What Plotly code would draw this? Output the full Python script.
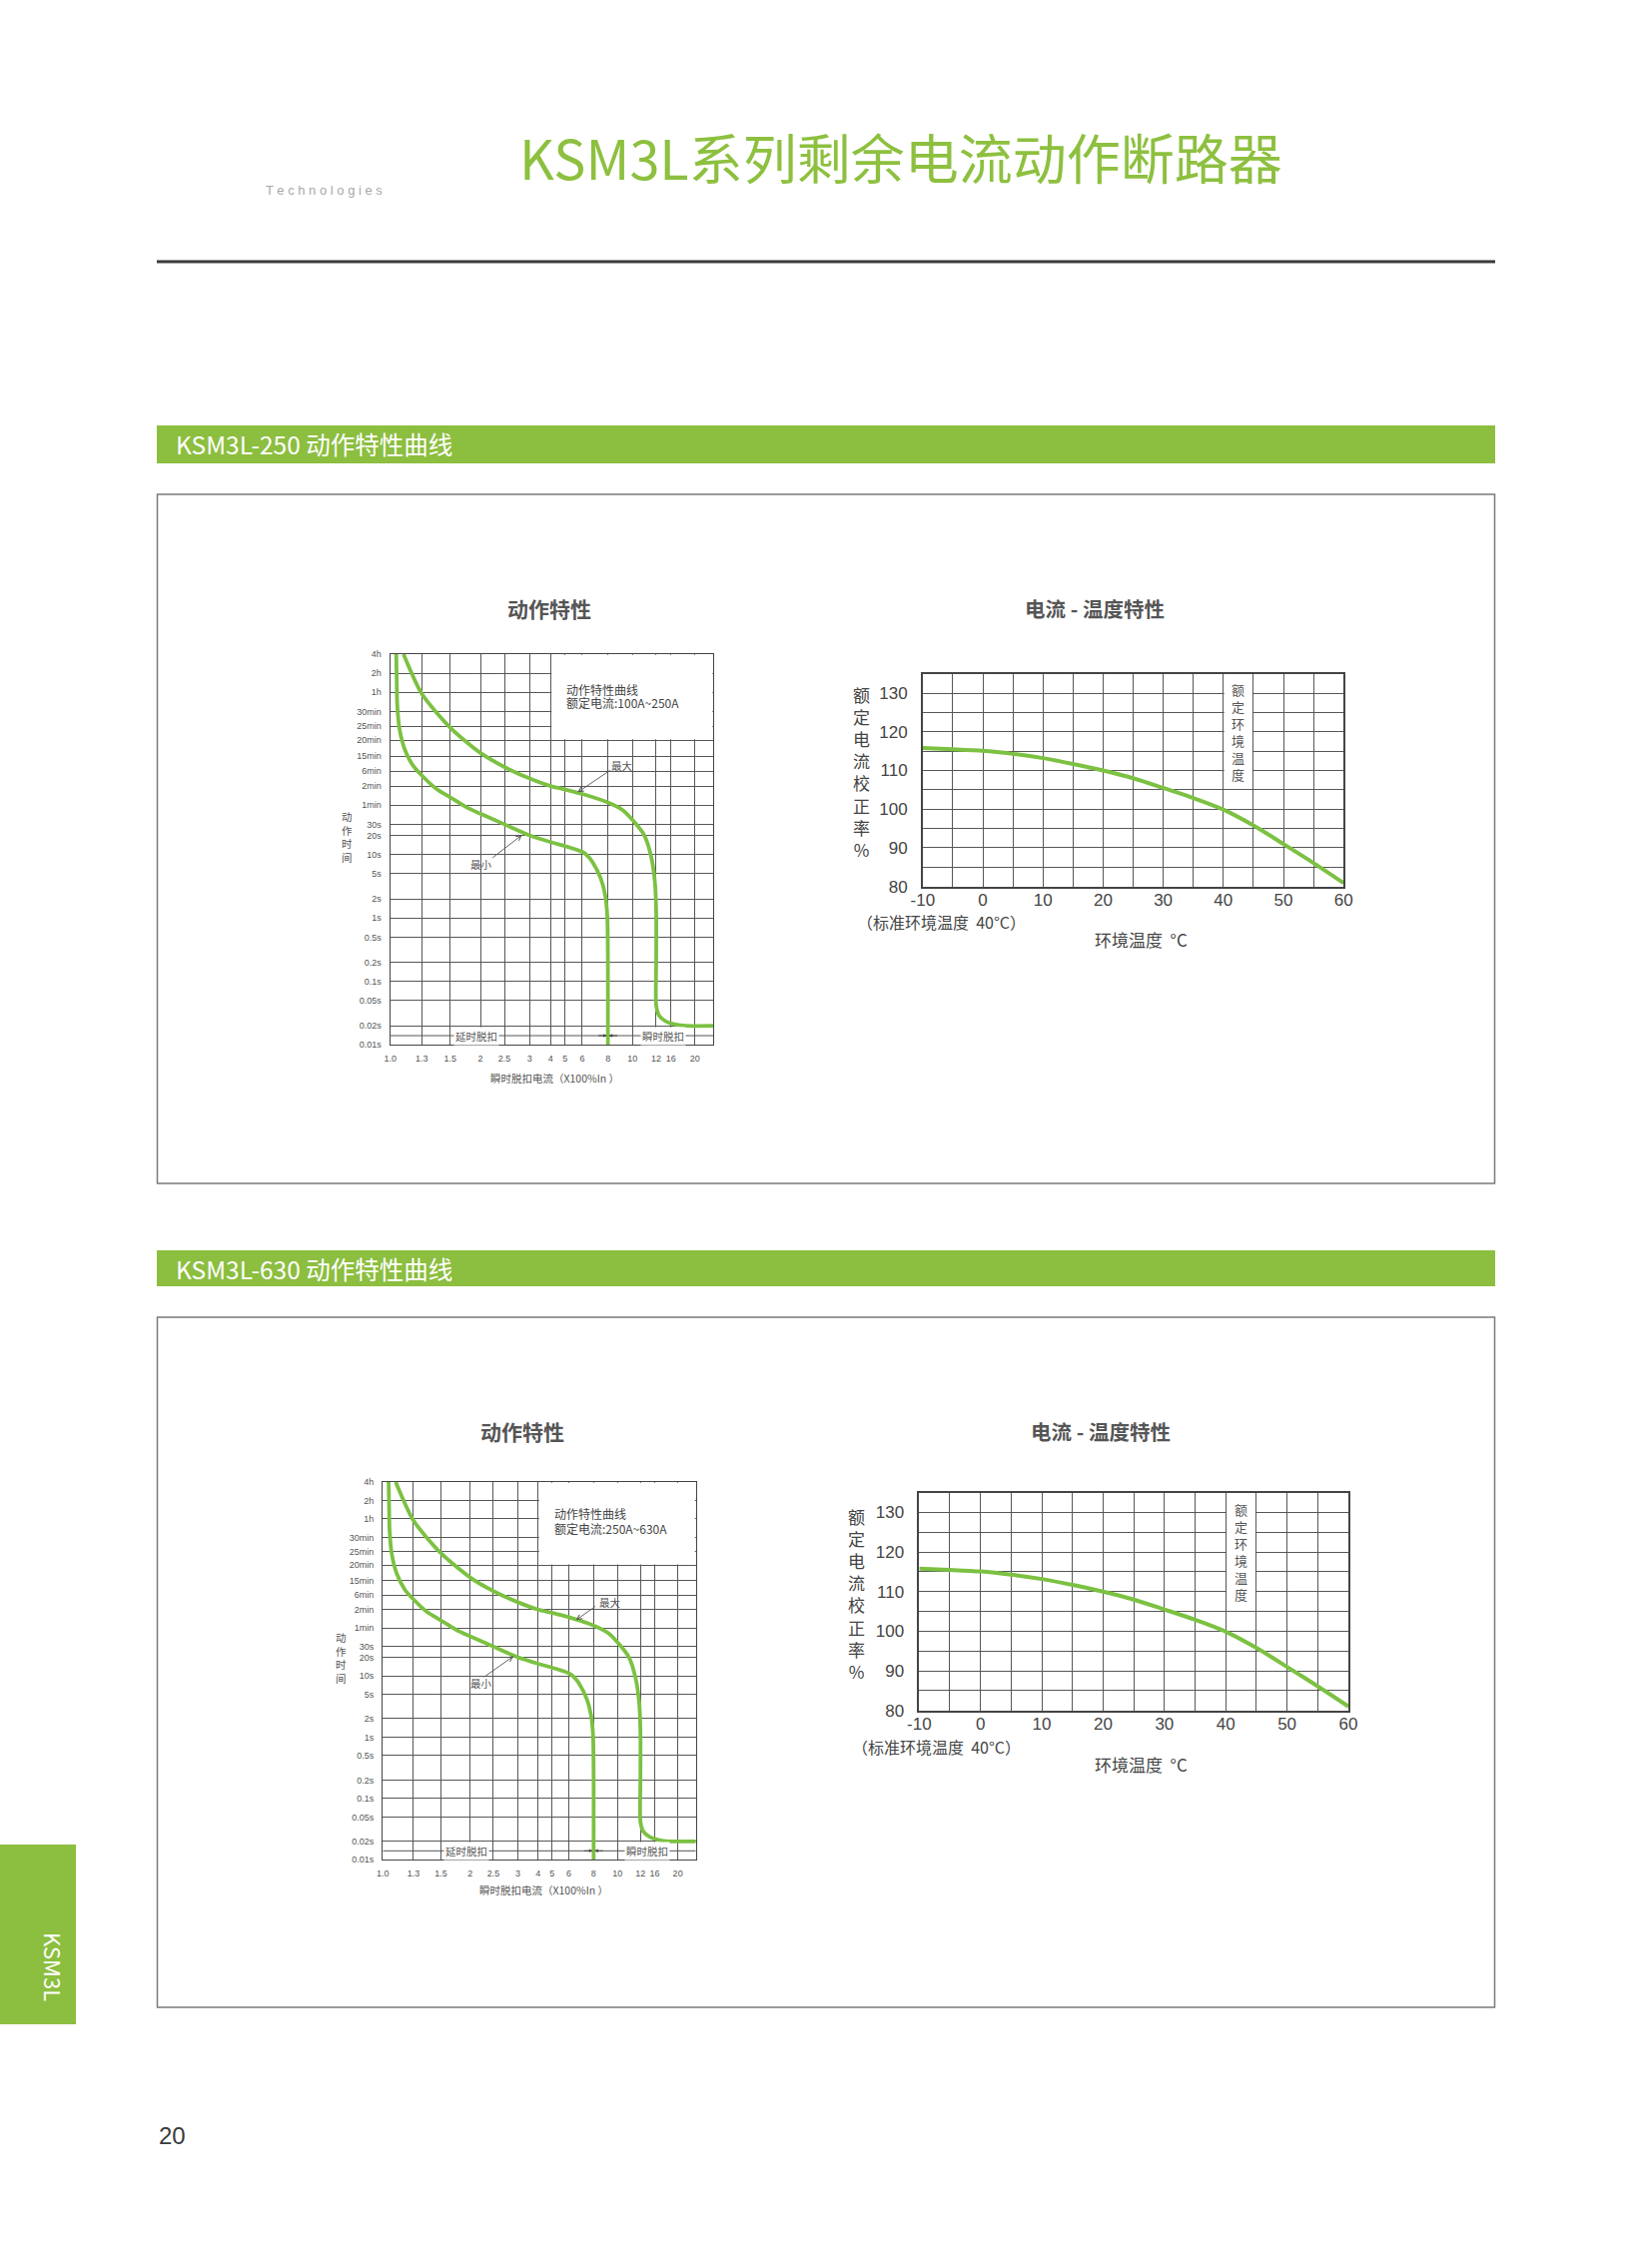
import numpy as np
import plotly.graph_objects as go

W, H = 1654, 2244

# ---------------- data ----------------
PAGE_TITLE = "KSM3L系列剩余电流动作断路器"
SECTION_TITLES = ["KSM3L-250 动作特性曲线", "KSM3L-630 动作特性曲线"]
RATED_TEXT = ["额定电流:100A~250A", "额定电流:250A~630A"]

# trip curve x axis (multiples of In) -- drawn on a non-uniform catalogue grid
X_TICK_LABELS = ["1.0", "1.3", "1.5", "2", "2.5", "3", "4", "5", "6", "8", "10", "12", "16", "20"]
X_MULTIPLES = [1.0, 1.3, 1.5, 2, 2.5, 3, 4, 5, 6, 8, 10, 12, 16, 20, 25]

# trip curve y axis (seconds, log)
Y_TICK_LABELS = ["0.01s", "0.02s", "0.05s", "0.1s", "0.2s", "0.5s", "1s", "2s", "5s", "10s",
                 "20s", "30s", "1min", "2min", "6min", "15min", "20min", "25min", "30min",
                 "1h", "2h", "4h"]
Y_TICK_SECONDS = [0.01, 0.02, 0.05, 0.1, 0.2, 0.5, 1, 2, 5, 10, 20, 30, 60, 120, 207, 357,
                  637, 1057, 1800, 3600, 7200, 14400]

# KSM3L-250 curves
MAX250_I = [1.126, 1.3, 1.5, 2.0, 2.5, 3.0, 4.0, 5.0, 6.0, 8.0, 9.2, 10.0, 11.0, 11.55,
            11.89, 12.0, 12.0, 12.0, 12.8, 14.6, 16.8, 18.5, 25]
MAX250_T = [14400, 3400, 1000, 400, 240, 158, 120, 106, 90, 66, 50, 35, 20, 9.7,
            3.7, 1.24, 0.2, 0.042, 0.029, 0.0236, 0.0209, 0.02, 0.02]
MIN250_I = [1.057, 1.062, 1.066, 1.088, 1.136, 1.215, 1.3, 1.401, 1.5, 1.764, 2.0, 2.5,
            3.0, 4.0, 5.0, 6.0, 6.42, 6.8, 7.45, 7.79, 7.95, 8.0, 8.0]
MIN250_T = [14400, 5000, 2400, 960, 464, 254, 176, 109, 80, 56, 44, 30,
            20, 15.7, 13.6, 11.0, 9.5, 7.6, 4.16, 2.27, 1.1, 0.2, 0.01]

# KSM3L-630 curves
MAX630_I = [1.126, 1.3, 1.5, 2.0, 2.5, 3.0, 4.0, 5.0, 6.0, 8.0, 9.2, 10.0, 11.0, 11.55,
            11.89, 12.0, 12.0, 12.0, 12.8, 14.6, 16.8, 18.5, 25]
MAX630_T = [14400, 3400, 1000, 400, 240, 158, 120, 106, 90, 66, 50, 35, 20, 9.7,
            3.7, 1.24, 0.2, 0.042, 0.029, 0.0236, 0.0209, 0.02, 0.02]
MIN630_I = [1.057, 1.062, 1.066, 1.088, 1.136, 1.215, 1.3, 1.401, 1.5, 1.764, 2.0, 2.5,
            3.0, 4.0, 5.0, 6.0, 6.42, 6.8, 7.45, 7.79, 7.95, 8.0, 8.0]
MIN630_T = [14400, 5000, 2400, 960, 464, 254, 176, 109, 80, 56, 44, 30,
            20, 15.7, 13.6, 11.0, 9.5, 7.6, 4.16, 2.27, 1.1, 0.2, 0.01]

ARROW_T = 0.014          # time level of the 延时/瞬时 marker line
SPLIT_I = 8              # delayed / instantaneous boundary (x In)
LEGEND_BOX_T = (637, 14400)   # legend box spans 20min tick .. 4h

# current - temperature curve
TEMP_C = [-10, -5, 0, 5, 10, 15, 20, 25, 30, 35, 40, 45, 50, 55, 60]
TEMP_RATE_250 = [115.8, 115.5, 115.1, 114.3, 113.2, 111.7, 110.0, 108.0, 105.5, 102.9, 99.9, 95.8, 91.0, 86.1, 80.9]
TEMP_RATE_630 = [115.8, 115.5, 115.1, 114.3, 113.2, 111.7, 110.0, 108.0, 105.5, 102.9, 99.9, 95.8, 91.0, 86.1, 81.0]
TEMP_X_TICKS = list(range(-10, 61, 5))
TEMP_Y_TICKS = list(range(80, 136, 5))

# ---------------- layout / style ----------------
X_GRID_POS = [0, .0978, .1854, .2791, .3532, .4315, .4964, .5407, .5942, .6735, .7497,
              .8229, .8682, .9423, 1.0]

CJK = "Noto Sans CJK SC, Noto Sans, sans-serif"
LAT = "Liberation Sans, Arial, Noto Sans CJK SC, sans-serif"
GREEN = "#8CBE3F"
TITLE_GREEN = "#8DC03F"
CURVE = "#7CC142"
GRID = "#575757"
FRAME = "#444444"
TXT = "#4a4a4a"


def xpos(m):
    return np.interp(m, X_MULTIPLES, X_GRID_POS)


def P(x, y):
    return x / W, 1 - y / H


def ann(text, x, y, size, color=TXT, xanchor="center", yanchor="middle",
        weight="normal", family=CJK, **kw):
    ax, ay = P(x, y)
    return dict(text=text, x=ax, y=ay, xref="paper", yref="paper", showarrow=False,
                xanchor=xanchor, yanchor=yanchor,
                font=dict(size=size, color=color, family=family, weight=weight), **kw)


def rect_px(x0, y0, x1, y1, **kw):
    a0, b0 = P(x0, y0)
    a1, b1 = P(x1, y1)
    return dict(type="rect", xref="paper", yref="paper", x0=a0, y0=b1, x1=a1, y1=b0, **kw)


fig = go.Figure()
shapes = []
anns = []

# ---------------- page decoration ----------------
anns.append(ann(PAGE_TITLE, 901.5, 157, 54, color=TITLE_GREEN))
anns.append(ann(" ".join("Technologies"), 264, 190, 13, color="#a8a8a8",
                xanchor="left", family=LAT))
a0, b0 = P(157, 262)
a1, _ = P(1497, 262)
shapes.append(dict(type="line", xref="paper", yref="paper", x0=a0, x1=a1, y0=b0, y1=b0,
                   line=dict(color="#3a3a3a", width=3)))

for (bar_y0, bar_y1, box_y0, box_y1, txt) in [(426, 464, 495, 1185, SECTION_TITLES[0]),
                                              (1252, 1288, 1319, 2010, SECTION_TITLES[1])]:
    shapes.append(rect_px(157, bar_y0, 1497, bar_y1, fillcolor=GREEN, line=dict(width=0),
                          layer="below"))
    shapes.append(rect_px(157.5, box_y0, 1496.5, box_y1, line=dict(color="#7a7a7a", width=1.5),
                          layer="below"))
    anns.append(ann(txt, 174, (bar_y0 + bar_y1) / 2, 24.5, color="white", xanchor="left"))

shapes.append(rect_px(0, 1847, 76, 2027, fillcolor=GREEN, line=dict(width=0), layer="below"))
anns.append(ann("KSM3L", 54, 1969, 22, color="white", textangle=90))
anns.append(ann("20", 157, 2138, 24, color="#3a3a3a", xanchor="left", family=LAT))

# ---------------- trip-curve charts ----------------
trip_specs = [
    dict(ax="", xd=(390.7, 714.3), yd=(655, 1046.3), title=(550, 609), ylab=(347, 837.5),
         xtitle=(555.8, 1079), leg=(565, 690, 703.5), rated=RATED_TEXT[0],
         curves=((MAX250_I, MAX250_T), (MIN250_I, MIN250_T)),
         max_lab=(9.17, 251), max_tip=(5.73, 95.7), max_off=(34, -23),
         min_lab=(2.03, 6.95), min_tip=(2.85, 20.4), min_off=(-31, 24)),
    dict(ax="3", xd=(383.3, 696.7), yd=(1484, 1862.3), title=(522.5, 1433), ylab=(341.7, 1659.7),
         xtitle=(544, 1892.7), leg=(553.3, 1515, 1530), rated=RATED_TEXT[1],
         curves=((MAX630_I, MAX630_T), (MIN630_I, MIN630_T)),
         max_lab=(9.37, 160), max_tip=(6.58, 80.7), max_off=(21, -15),
         min_lab=(2.24, 7.5), min_tip=(2.91, 20.9), min_off=(-31, 22)),
]

layout_axes = {}
for s in trip_specs:
    k = s["ax"]
    xname, yname = "x" + k, "y" + k
    layout_axes["xaxis" + k] = dict(
        domain=[s["xd"][0] / W, s["xd"][1] / W], anchor=yname, range=[0, 1],
        tickmode="array", tickvals=X_GRID_POS[:-1], ticktext=X_TICK_LABELS,
        showgrid=True, gridcolor=GRID, gridwidth=1.1, zeroline=False,
        showline=True, mirror=True, linecolor=FRAME, linewidth=1.4, ticks="",
        tickfont=dict(size=9, color="#555", family=LAT), ticklabelstandoff=5, fixedrange=True)
    layout_axes["yaxis" + k] = dict(
        domain=[1 - s["yd"][1] / H, 1 - s["yd"][0] / H], anchor=xname, type="log",
        range=[-2, np.log10(14400)], tickmode="array", tickvals=Y_TICK_SECONDS,
        ticktext=Y_TICK_LABELS, showgrid=True, gridcolor=GRID, gridwidth=1.1,
        zeroline=False, showline=True, mirror=True, linecolor=FRAME, linewidth=1.4,
        ticks="", tickfont=dict(size=9, color="#555", family=LAT), ticklabelstandoff=6,
        fixedrange=True)

    for ci, ti in s["curves"]:
        fig.add_trace(go.Scatter(x=xpos(ci), y=ti, xaxis=xname, yaxis=yname, mode="lines",
                                 line=dict(color=CURVE, width=3.8, shape="spline", smoothing=0.7),
                                 hoverinfo="skip", showlegend=False))

    # legend box (white, covers grid in the upper right); shapes on log axes take data values
    shapes.append(dict(type="rect", xref=xname, yref=yname, x0=X_GRID_POS[6] + 0.003,
                       x1=0.997, y0=LEGEND_BOX_T[0] * 1.03, y1=LEGEND_BOX_T[1] / 1.03,
                       fillcolor="white", line=dict(width=0), layer="above"))
    # delayed / instantaneous marker line
    shapes.append(dict(type="line", xref=xname, yref=yname, x0=0, x1=1,
                       y0=ARROW_T, y1=ARROW_T,
                       line=dict(color="#555", width=1), layer="between"))

    anns.append(ann("动作特性", s["title"][0], s["title"][1], 21, color="#555", weight="bold"))
    anns.append(ann("动<br>作<br>时<br>间", s["ylab"][0], s["ylab"][1], 10.5, color="#555"))
    anns.append(ann("瞬时脱扣电流（X100%In ）", s["xtitle"][0], s["xtitle"][1], 10.5, color="#555"))
    anns.append(ann("动作特性曲线", s["leg"][0], s["leg"][1], 12, color="#444", xanchor="left"))
    anns.append(ann(s["rated"], s["leg"][0], s["leg"][2], 12, color="#444", xanchor="left"))

    for lab, (m, t) in (("最大", s["max_lab"]), ("最小", s["min_lab"])):
        anns.append(dict(text=lab, x=float(xpos(m)), y=np.log10(t), xref=xname, yref=yname,
                         showarrow=False, font=dict(size=10.5, color="#555", family=CJK)))
    for (m, t), (ox, oy) in ((s["max_tip"], s["max_off"]), (s["min_tip"], s["min_off"])):
        anns.append(dict(text="", x=float(xpos(m)), y=np.log10(t), xref=xname, yref=yname,
                         showarrow=True, ax=ox, ay=oy, arrowhead=5, arrowsize=1.1,
                         arrowwidth=0.9, arrowcolor="#555"))
    for lab, m in (("延时脱扣", 1.93), ("瞬时脱扣", 13.95)):
        anns.append(dict(text=lab, x=float(xpos(m)), y=np.log10(ARROW_T), xref=xname,
                         yref=yname, showarrow=False, bgcolor="white", borderpad=1,
                         font=dict(size=10.5, color="#555", family=CJK)))
    for ox in (-11, 11):
        anns.append(dict(text="", x=float(xpos(SPLIT_I)), y=np.log10(ARROW_T), xref=xname,
                         yref=yname, showarrow=True, ax=ox, ay=0, arrowhead=2, arrowsize=0.7,
                         arrowwidth=1, arrowcolor="#444", standoff=1))

# ---------------- current-temperature charts ----------------
temp_specs = [
    dict(ax="2", xd=(923.8, 1345.2), yd=(674.7, 887.7), title=(1095.5, 609.3),
         ylab=(862.8, 772.5), note=(855.9, 923.3), xtitle=(1093.8, 940.7), vals=TEMP_RATE_250),
    dict(ax="4", xd=(920.3, 1350), yd=(1494.7, 1712.7), title=(1101.6, 1433),
         ylab=(857.6, 1596), note=(850.7, 1749.3), xtitle=(1093.8, 1766.7), vals=TEMP_RATE_630),
]
for s in temp_specs:
    k = s["ax"]
    xname, yname = "x" + k, "y" + k
    layout_axes["xaxis" + k] = dict(
        domain=[s["xd"][0] / W, s["xd"][1] / W], anchor=yname, range=[-10, 60],
        tickmode="array", tickvals=TEMP_X_TICKS,
        ticktext=[str(v) if v % 10 == 0 else "" for v in TEMP_X_TICKS],
        showgrid=True, gridcolor=GRID, gridwidth=1.3, zeroline=False, showline=True,
        mirror=True, linecolor=FRAME, linewidth=1.5, ticks="",
        tickfont=dict(size=17, color="#444", family=LAT), ticklabelstandoff=-3, fixedrange=True)
    layout_axes["yaxis" + k] = dict(
        domain=[1 - s["yd"][1] / H, 1 - s["yd"][0] / H], anchor=xname, range=[80, 135],
        tickmode="array", tickvals=TEMP_Y_TICKS,
        ticktext=[str(v) if v % 10 == 0 and v < 135 else "" for v in TEMP_Y_TICKS],
        showgrid=True, gridcolor=GRID, gridwidth=1.3, zeroline=False, showline=True,
        mirror=True, linecolor=FRAME, linewidth=1.5, ticks="",
        tickfont=dict(size=17, color="#444", family=LAT), ticklabelstandoff=10, fixedrange=True)

    fig.add_trace(go.Scatter(x=TEMP_C, y=s["vals"], xaxis=xname, yaxis=yname, mode="lines",
                             line=dict(color=CURVE, width=4, shape="spline", smoothing=0.8),
                             hoverinfo="skip", showlegend=False))
    shapes.append(dict(type="rect", xref=xname, yref=yname, x0=40.15, x1=44.85, y0=105.25,
                       y1=134.8, fillcolor="white", line=dict(width=0), layer="above"))
    anns.append(dict(text="额<br>定<br>环<br>境<br>温<br>度", x=42.5, y=120, xref=xname,
                     yref=yname, showarrow=False, font=dict(size=13, color="#555", family=CJK)))

    anns.append(ann("电流 - 温度特性", s["title"][0], s["title"][1], 20.5, color="#555",
                    weight="bold"))
    anns.append(ann("额<br>定<br>电<br>流<br>校<br>正<br>率<br>%", s["ylab"][0], s["ylab"][1],
                    17, color="#444"))
    anns.append(ann("（标准环境温度  40°C）", s["note"][0], s["note"][1], 16, color="#444",
                    xanchor="left"))
    anns.append(ann("环境温度  °C", s["xtitle"][0], s["xtitle"][1], 17, color="#444",
                    xanchor="left"))

fig.update_layout(
    width=W, height=H, margin=dict(l=0, r=0, t=0, b=0, pad=0, autoexpand=False),
    paper_bgcolor="white", plot_bgcolor="white", showlegend=False,
    shapes=shapes, annotations=anns, **layout_axes,
)

fig.write_html("out.html", config={"displayModeBar": False},
               post_script="document.body.style.margin='0px';")
